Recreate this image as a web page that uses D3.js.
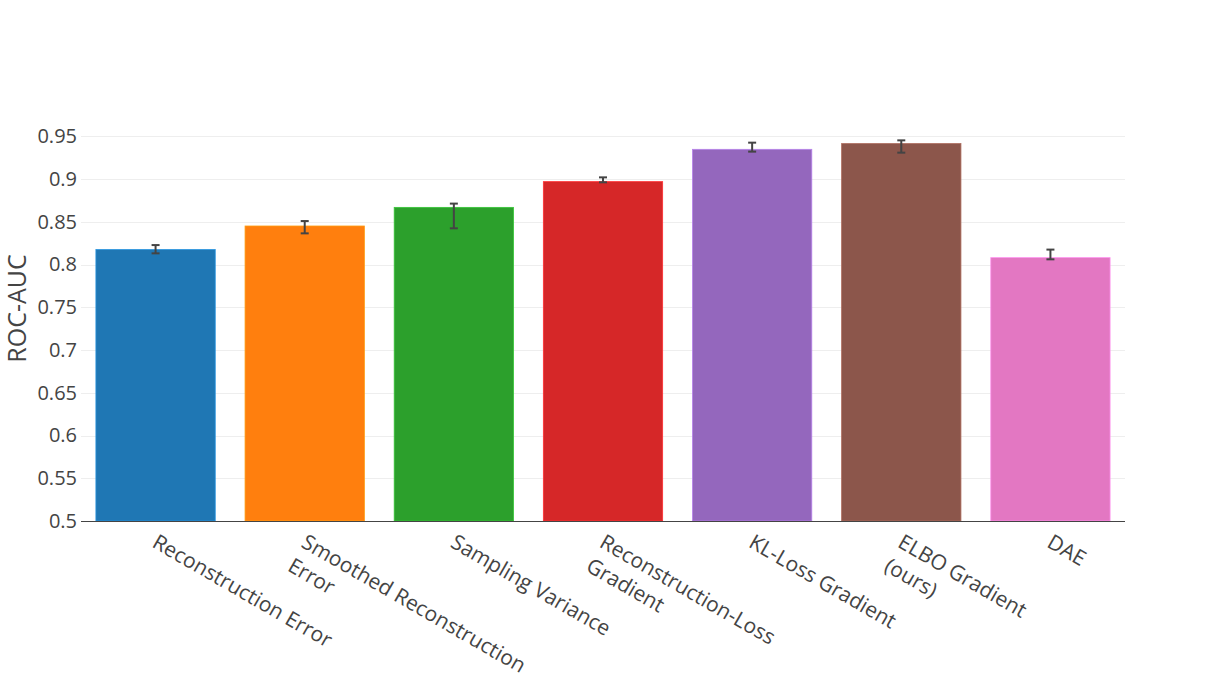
<!DOCTYPE html>
<html>
<head>
<meta charset="utf-8">
<script src="https://cdn.jsdelivr.net/npm/d3@7"></script>
<style>
  body { margin: 0; background: #fff; }
  text { font-family: "Open Sans", sans-serif; fill: #444; }
</style>
</head>
<body>
<div class="chart"></div>
<script>
// ROC-AUC per anomaly score, bars with asymmetric error bars

var w = 1205, h = 676;
var margin = {top: 100, right: 80, bottom: 155, left: 81};

// data
var methods = ["Reconstruction Error", "Smoothed Reconstruction<br>Error", "Sampling Variance",
	"Reconstruction-Loss<br>Gradient", "KL-Loss Gradient", "ELBO Gradient<br>(ours)", "DAE"];
var auc = [0.8175, 0.8451, 0.8669, 0.8970, 0.9348, 0.9415, 0.8081];
var errPlus = [0.0053, 0.0058, 0.0044, 0.0050, 0.0078, 0.0038, 0.0094];
var errMinus = [0.0044, 0.0086, 0.0245, 0.0008, 0.0027, 0.0106, 0.0020];
var yTicks = [0.5, 0.55, 0.6, 0.65, 0.7, 0.75, 0.8, 0.85, 0.9, 0.95];
var colors = ["#1f77b4", "#ff7f0e", "#2ca02c", "#d62728", "#9467bd", "#8c564b", "#e377c2"];

var data = methods.map(function(m, i) {
	return {name: m, v: auc[i], hi: auc[i] + errPlus[i], lo: auc[i] - errMinus[i], c: colors[i]};
});

var iw = w - margin.left - margin.right,
	ih = h - margin.top - margin.bottom;

var x = d3.scaleBand().domain(methods).range([0, iw]).paddingInner(0.2).paddingOuter(0.1);
var y = d3.scaleLinear().domain([0.5, 0.9925]).range([ih, 0]);

var svg = d3.select('.chart').append('svg')
	.attr('width', w)
	.attr('height', h);

var g = svg.append('g')
	.attr('transform', 'translate(' + [margin.left, margin.top] + ')');

// gridlines
g.append('g')
	.selectAll('line')
	.data(yTicks.slice(1))
	.enter().append('line')
		.attr('x1', 0)
		.attr('x2', iw)
		.attr('y1', function(d) { return Math.round(y(d)) + 0.5; })
		.attr('y2', function(d) { return Math.round(y(d)) + 0.5; })
		.attr('stroke', '#eee')
		.attr('stroke-width', 1);

// y axis labels
var yAxis = d3.axisLeft(y).tickValues(yTicks).tickSize(0).tickPadding(4)
	.tickFormat(function(d) { return String(+d.toFixed(2)); });
var ya = g.append('g').call(yAxis);
ya.select('.domain').remove();
ya.selectAll('text')
	.style('font-size', '20px')
	.style('font-family', '"Open Sans", sans-serif')
	.attr('fill', '#444');

// bars
g.selectAll('rect.bar')
	.data(data)
	.enter().append('rect')
		.attr('class', 'bar')
		.attr('x', function(d) { return x(d.name); })
		.attr('width', x.bandwidth())
		.attr('y', function(d) { return y(d.v); })
		.attr('height', function(d) { return ih - y(d.v); })
		.attr('fill', function(d) { return d.c; })
		.attr('stroke', function(d) { return d3.color(d.c).brighter(0.6); })
		.attr('stroke-width', 0.8);

// error bars
var eb = g.selectAll('g.err')
	.data(data)
	.enter().append('g')
		.attr('class', 'err')
		.attr('transform', function(d) { return 'translate(' + (x(d.name) + x.bandwidth() / 2) + ',0)'; })
		.attr('stroke', '#444')
		.attr('stroke-width', 2);
eb.append('line')
	.attr('y1', function(d) { return y(d.hi); })
	.attr('y2', function(d) { return y(d.lo); });
eb.append('line')
	.attr('x1', -4).attr('x2', 4)
	.attr('y1', function(d) { return y(d.hi); })
	.attr('y2', function(d) { return y(d.hi); });
eb.append('line')
	.attr('x1', -4).attr('x2', 4)
	.attr('y1', function(d) { return y(d.lo); })
	.attr('y2', function(d) { return y(d.lo); });

// x axis line
g.append('line')
	.attr('x1', 0).attr('x2', iw)
	.attr('y1', ih + 0.5).attr('y2', ih + 0.5)
	.attr('stroke', '#444')
	.attr('stroke-width', 1);

// rotated category labels, multi-line on <br>
var lab = g.selectAll('text.cat')
	.data(data)
	.enter().append('text')
		.attr('class', 'cat')
		.attr('transform', function(d) {
			return 'translate(' + [x(d.name) + x.bandwidth() / 2 - 1, ih + 19] + ') rotate(30)';
		})
		.style('font-size', '21px');
lab.selectAll('tspan')
	.data(function(d) { return d.name.split('<br>'); })
	.enter().append('tspan')
		.attr('x', 0)
		.attr('dy', function(d, i) { return i === 0 ? '0.35em' : '1.3em'; })
		.text(function(d) { return d; });

// y title
svg.append('text')
	.attr('transform', 'translate(' + [26, margin.top + ih / 2 - 2] + ') rotate(-90)')
	.attr('text-anchor', 'middle')
	.style('font-size', '25px')
	.text('ROC-AUC');
</script>
</body>
</html>
